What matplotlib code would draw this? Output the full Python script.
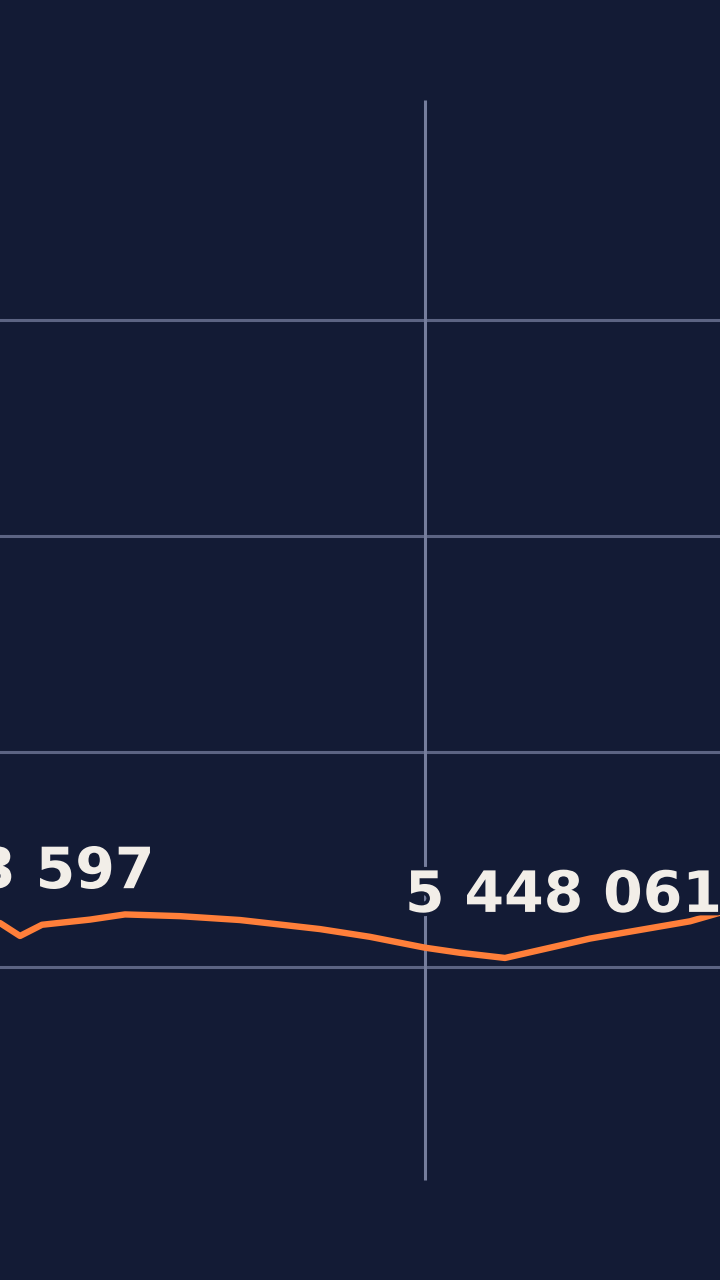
import matplotlib.pyplot as plt
import matplotlib.patheffects as pe

# Data (x = position along the time axis, y = value)
days = [0, 20, 42, 90, 125, 180, 240, 320, 370, 425, 460, 505, 560, 590, 640, 690, 720]
values = [6.02e6, 5.72e6, 5.98e6, 6.10e6, 6.22e6, 6.18e6, 6.09e6, 5.88e6, 5.70e6,
          5.448061e6, 5.33e6, 5.21e6, 5.50e6, 5.66e6, 5.86e6, 6.06e6, 6.26e6]
marker_day = 425
label_left = '6 023 597'
label_right = '5 448 061'
yticks = [5e6, 10e6, 15e6, 20e6]

bg = '#131b35'
fig = plt.figure(figsize=(7.2, 12.8), dpi=100, facecolor=bg)
ax = fig.add_axes([0, 0, 1, 1], facecolor=bg)

ax.set_xlim(0, 720)
ax.set_ylim(-2.262e6, 27.436e6)

for v in yticks:
    ax.axhline(v, color='#5c6483', lw=2.2, zorder=1)

# marker line at the selected date
ax.vlines(marker_day, 0.06e6, 25.12e6, color='#757d9c', lw=2.2, zorder=1)

ax.plot(days, values, color='#ff7f3a', lw=4.6, solid_capstyle='round', zorder=3)

stroke = [pe.withStroke(linewidth=5, foreground=bg)]
ax.text(155, 6.55e6, label_left, ha='right', va='bottom', fontsize=41,
        fontweight='bold', color='#f2eee8', path_effects=stroke, zorder=4)
ax.text(405, 6.0e6, label_right, ha='left', va='bottom', fontsize=41,
        fontweight='bold', color='#f2eee8', path_effects=stroke, zorder=4)

ax.axis('off')
fig.savefig('out.png', dpi=100, facecolor=bg)
